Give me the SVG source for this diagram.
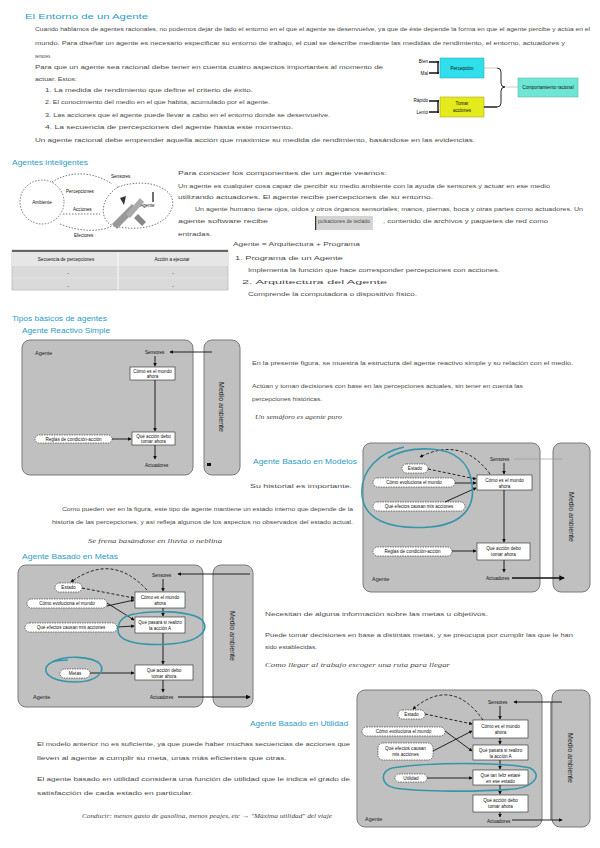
<svg xmlns="http://www.w3.org/2000/svg" width="600" height="848" viewBox="0 0 600 848">
<style>
text{font-family:"Liberation Sans",Arial,sans-serif}
.h{font-size:8px;fill:#2c9cc4}
.t{font-size:6px;fill:#4a4a4a}
.hw{font-family:"Liberation Serif",serif;font-style:italic;font-size:6.5px;fill:#444}
.s{font-size:4.6px;fill:#111}
.c{text-anchor:middle}
.sm{font-size:5.5px;fill:#222}
.va{font-size:7px;fill:#222;text-anchor:middle}
.env{fill:#c0c0c0;stroke:#7a7a7a;stroke-width:1}
.bx{fill:#fff;stroke:#222;stroke-width:.6}
.rb{fill:#fff;stroke:#222;stroke-width:.6;stroke-dasharray:1.5 1}
.ln{stroke:#111;stroke-width:.9;fill:none}
.dl{stroke:#111;stroke-width:.9;fill:none;stroke-dasharray:3 2}
.dt{stroke:#555;stroke-width:.8;fill:none;stroke-dasharray:1.5 1.5}
.tl{stroke:#3596aa;stroke-width:1.6;fill:none}
</style>
<defs>
<marker id="a" viewBox="0 0 6 6" refX="5" refY="3" markerWidth="4" markerHeight="4" orient="auto"><path d="M0,0 L6,3 L0,6z" fill="#111"/></marker>
</defs>
<rect width="600" height="848" fill="#fff"/>

<g id="seccion-entorno">
<text class="h" x="25" y="19" textLength="123" lengthAdjust="spacingAndGlyphs">El Entorno de un Agente</text>
<text class="t" x="35" y="31" textLength="555" lengthAdjust="spacingAndGlyphs">Cuando hablamos de agentes racionales, no podemos dejar de lado el entorno en el que el agente se desenvuelve, ya que de éste depende la forma en que el agente percibe y actúa en el</text>
<text class="t" x="35" y="45" textLength="530" lengthAdjust="spacingAndGlyphs">mundo. Para diseñar un agente es necesario especificar su entorno de trabajo, el cual se describe mediante las medidas de rendimiento, el entorno, actuadores y</text>
<text class="t" x="35" y="58" textLength="16" lengthAdjust="spacingAndGlyphs">sensores.</text>
<text class="t" x="35" y="69" textLength="348" lengthAdjust="spacingAndGlyphs">Para que un agente sea racional debe tener en cuenta cuatro aspectos importantes al momento de</text>
<text class="t" x="35" y="81" textLength="42" lengthAdjust="spacingAndGlyphs">actuar. Estos:</text>
<text class="t" x="45" y="92" textLength="208" lengthAdjust="spacingAndGlyphs">1. La medida de rendimiento que define el criterio de éxito.</text>
<text class="t" x="45" y="104" textLength="225" lengthAdjust="spacingAndGlyphs">2. El conocimiento del medio en el que habita, acumulado por el agente.</text>
<text class="t" x="45" y="117" textLength="285" lengthAdjust="spacingAndGlyphs">3. Las acciones que el agente puede llevar a cabo en el entorno donde se desenvuelve.</text>
<text class="t" x="45" y="129" textLength="248" lengthAdjust="spacingAndGlyphs">4. La secuencia de percepciones del agente hasta este momento.</text>
<text class="t" x="35" y="142" textLength="440" lengthAdjust="spacingAndGlyphs">Un agente racional debe emprender aquella acción que maximice su medida de rendimiento, basándose en las evidencias.</text>
</g>

<g id="diagrama-entorno">
<text class="s" x="428" y="63" text-anchor="end">Bien</text>
<text class="s" x="428" y="75" text-anchor="end">Mal</text>
<text class="s" x="428" y="102" text-anchor="end">Rápido</text>
<text class="s" x="428" y="114" text-anchor="end">Lento</text>
<path d="M429,62 H439 M429,73 H439 M438,61 V74 M429,101 H439 M429,112 H439 M438,100 V113" stroke="#111" stroke-width="1.4" fill="none"/>
<rect x="440" y="58" width="44" height="20" fill="#2fdfeb" stroke="#3aa8b8" stroke-width=".6"/>
<text class="s c" x="462" y="70">Percepción</text>
<rect x="440" y="97" width="44" height="20" fill="#e4ea1c" stroke="#a8a820" stroke-width=".6"/>
<text class="s c" x="462" y="105">Tomar</text>
<text class="s c" x="462" y="112">acciones</text>
<path d="M484,68 H497" stroke="#aaa" stroke-width=".6"/>
<path d="M484,107 H497" stroke="#111" stroke-width="1.4"/>
<path d="M497,68 Q501,68 501,72 V83 Q501,87 505,87 Q501,87 501,91 V103 Q501,107 497,107" stroke="#111" stroke-width=".9" fill="none"/>
<path d="M505,87 H518" stroke="#aaa" stroke-width=".6"/>
<rect x="518" y="78" width="60" height="19" fill="#6ee6d6" stroke="#5ab8ac" stroke-width=".6"/>
<text class="s c" x="548" y="89">Comportamiento racional</text>
</g>

<g id="seccion-agentes">
<text class="h" x="12" y="165" textLength="76" lengthAdjust="spacingAndGlyphs">Agentes inteligentes</text>
<text class="t" x="178" y="175" textLength="209" lengthAdjust="spacingAndGlyphs">Para conocer los componentes de un agente veamos:</text>
<text class="t" x="178" y="188" textLength="372" lengthAdjust="spacingAndGlyphs">Un agente es cualquier cosa capaz de percibir su medio ambiente con la ayuda de sensores y actuar en ese medio</text>
<text class="t" x="178" y="199" textLength="255" lengthAdjust="spacingAndGlyphs">utilizando actuadores. El agente recibe percepciones de su entorno.</text>
<text class="t" x="195" y="211" textLength="388" lengthAdjust="spacingAndGlyphs">Un agente humano tiene ojos, oídos y otros órganos sensoriales; manos, piernas, boca y otras partes como actuadores. Un</text>
<text class="t" x="178" y="223" textLength="90" lengthAdjust="spacingAndGlyphs">agente software recibe</text>
<rect x="315" y="216" width="58" height="14" fill="#d4d4d4"/>
<rect x="315" y="216" width="1.2" height="14" fill="#333"/>
<text class="t" x="318" y="223" textLength="52" lengthAdjust="spacingAndGlyphs">pulsaciones de teclado</text>
<text class="t" x="383" y="223" textLength="165" lengthAdjust="spacingAndGlyphs">, contenido de archivos y paquetes de red como</text>
<text class="t" x="178" y="236" textLength="34" lengthAdjust="spacingAndGlyphs">entradas.</text>
<text class="t" x="233" y="246" textLength="127" lengthAdjust="spacingAndGlyphs">Agente = Arquitectura + Programa</text>
<text class="t" x="235" y="260" textLength="108" lengthAdjust="spacingAndGlyphs">1. Programa de un Agente</text>
<text class="t" x="248" y="272" textLength="252" lengthAdjust="spacingAndGlyphs">Implementa la función que hace corresponder percepciones con acciones.</text>
<text class="t" x="242" y="284" textLength="145" lengthAdjust="spacingAndGlyphs">2. Arquitectura del Agente</text>
<text class="t" x="248" y="296" textLength="169" lengthAdjust="spacingAndGlyphs">Comprende la computadora o dispositivo físico.</text>
</g>

<g id="diagrama-agente">
<ellipse cx="42" cy="202" rx="22" ry="22" class="dt"/>
<text class="s c" x="42" y="204">Ambiente</text>
<path class="dt" d="M118,187 C150,176 178,190 172,208 C166,226 140,232 114,226 C100,222 98,200 118,187"/>
<path class="dt" d="M52,182 C70,170 95,172 112,184"/>
<path class="dt" d="M63,214 L100,214"/>
<path class="dt" d="M60,224 C80,232 100,232 112,226"/>
<text class="s" x="111" y="178">Sensores</text>
<text class="s" x="66" y="193">Percepciones</text>
<text class="s" x="73" y="211">Acciones</text>
<text class="s" x="74" y="237">Efectores</text>
<text class="s" x="140" y="207">Agente</text>
<line x1="153" y1="192" x2="153" y2="202" stroke="#111" stroke-width="1.2"/>
<path d="M112,224 L132,204 L137,209 L117,229z" fill="#999"/>
<path d="M126,214 L140,198 L144,202 L130,218z" fill="#aaa"/>
<path d="M138,214 L146,222 L142,226 L134,218z" fill="#888"/>
<path d="M120,198 L126,196 L124,205z" fill="#333"/>
</g>

<g id="tabla">
<rect x="12" y="250" width="216" height="40" fill="#dadada" stroke="#aaa" stroke-width=".6"/>
<rect x="12" y="250" width="216" height="2" fill="#666"/>
<rect x="12" y="252" width="216" height="14" fill="#e6e6e6"/>
<line x1="118" y1="252" x2="118" y2="290" stroke="#fafafa" stroke-width="1"/>
<line x1="12" y1="278" x2="228" y2="278" stroke="#e8e8e8" stroke-width=".6"/>
<text class="s c" x="66" y="261">Secuencia de percepciones</text>
<text class="s c" x="172" y="261">Acción a ejecutar</text>
<text class="s c" x="68" y="275">-</text>
<text class="s c" x="173" y="275">-</text>
<text class="s c" x="68" y="288">-</text>
<text class="s c" x="173" y="288">-</text>
</g>

<g id="seccion-tipos">
<text class="h" x="12" y="321" textLength="95" lengthAdjust="spacingAndGlyphs">Tipos básicos de agentes</text>
<text class="h" x="22" y="333" textLength="88" lengthAdjust="spacingAndGlyphs">Agente Reactivo Simple</text>
<text class="t" x="252" y="365" textLength="321" lengthAdjust="spacingAndGlyphs">En la presente figura, se muestra la estructura del agente reactivo simple y su relación con el medio.</text>
<text class="t" x="252" y="388" textLength="271" lengthAdjust="spacingAndGlyphs">Actúan y toman decisiones con base en las percepciones actuales, sin tener en cuenta las</text>
<text class="t" x="252" y="401" textLength="70" lengthAdjust="spacingAndGlyphs">percepciones históricas.</text>
<text class="hw" x="255" y="419" textLength="87" lengthAdjust="spacingAndGlyphs">Un semáforo es agente puro</text>
<text class="h" x="253" y="464" textLength="104" lengthAdjust="spacingAndGlyphs">Agente Basado en Modelos</text>
<text class="t" x="250" y="488" textLength="102" lengthAdjust="spacingAndGlyphs">Su historial es importante.</text>
<text class="t" x="62" y="511" textLength="291" lengthAdjust="spacingAndGlyphs">Como pueden ver en la figura, este tipo de agente mantiene un estado interno que depende de la</text>
<text class="t" x="52" y="524" textLength="301" lengthAdjust="spacingAndGlyphs">historia de las percepciones, y así refleja algunos de los aspectos no observados del estado actual.</text>
<text class="hw" x="88" y="543" textLength="134" lengthAdjust="spacingAndGlyphs">Se frena basándose en lluvia o neblina</text>
<text class="h" x="22" y="559" textLength="96" lengthAdjust="spacingAndGlyphs">Agente Basado en Metas</text>
<text class="t" x="265" y="616" textLength="223" lengthAdjust="spacingAndGlyphs">Necesitan de alguna información sobre las metas u objetivos.</text>
<text class="t" x="265" y="637" textLength="308" lengthAdjust="spacingAndGlyphs">Puede tomar decisiones en base a distintas metas, y se preocupa por cumplir las que le han</text>
<text class="t" x="265" y="649" textLength="52" lengthAdjust="spacingAndGlyphs">sido establecidas.</text>
<text class="hw" x="265" y="667" textLength="185" lengthAdjust="spacingAndGlyphs">Como llegar al trabajo escoger una ruta para llegar</text>
<text class="h" x="250" y="726" textLength="98" lengthAdjust="spacingAndGlyphs">Agente Basado en Utilidad</text>
<text class="t" x="37" y="746" textLength="313" lengthAdjust="spacingAndGlyphs">El modelo anterior no es suficiente, ya que puede haber muchas secuencias de acciones que</text>
<text class="t" x="37" y="760" textLength="250" lengthAdjust="spacingAndGlyphs">lleven al agente a cumplir su meta, unas más eficientes que otras.</text>
<text class="t" x="37" y="781" textLength="313" lengthAdjust="spacingAndGlyphs">El agente basado en utilidad considera una función de utilidad que le indica el grado de</text>
<text class="t" x="37" y="795" textLength="156" lengthAdjust="spacingAndGlyphs">satisfacción de cada estado en particular.</text>
<text class="hw" x="82" y="818" textLength="250" lengthAdjust="spacingAndGlyphs">Conducir: menos gasto de gasolina, menos peajes, etc → "Máxima utilidad" del viaje</text>
</g>

<g id="agente-reactivo-simple">
<rect class="env" x="22" y="340" width="171" height="135" rx="8"/>
<rect class="env" x="204" y="340" width="36" height="135" rx="8"/>
<text class="va" transform="translate(219,407) rotate(90)">Medio ambiente</text>
<text class="sm" x="35" y="355">Agente</text>
<text class="s" x="145" y="354">Sensores</text>
<line class="ln" x1="212" y1="352" x2="170" y2="352" marker-end="url(#a)"/>
<line class="ln" x1="155" y1="356" x2="155" y2="366" marker-end="url(#a)"/>
<rect class="bx" x="130" y="367" width="45" height="13"/>
<text class="s c" x="152.5" y="372.5">Cómo es el mundo</text>
<text class="s c" x="152.5" y="378">ahora</text>
<line class="ln" x1="155" y1="380" x2="155" y2="431" marker-end="url(#a)"/>
<rect class="bx" x="132" y="432" width="43" height="13"/>
<text class="s c" x="153.5" y="437.5">Qué acción debo</text>
<text class="s c" x="153.5" y="443">tomar ahora</text>
<rect class="rb" x="35" y="435" width="77" height="8" rx="4"/>
<text class="s c" x="73.5" y="440.8">Reglas de condición-acción</text>
<line class="ln" x1="112" y1="439" x2="131" y2="439" marker-end="url(#a)"/>
<line class="ln" x1="155" y1="445" x2="155" y2="459" marker-end="url(#a)"/>
<text class="s" x="145" y="467">Actuadores</text>
<rect x="207" y="463" width="4" height="3" fill="#111"/>
</g>

<g id="agente-basado-en-modelos">
<rect class="env" x="363" y="443" width="177" height="149" rx="8"/>
<rect class="env" x="553" y="443" width="37" height="149" rx="8"/>
<text class="va" transform="translate(569,517) rotate(90)">Medio ambiente</text>
<text class="s" x="490" y="461">Sensores</text>
<line x1="562" y1="459" x2="514" y2="459" stroke="#999" stroke-width=".7"/>
<line class="ln" x1="504" y1="463" x2="504" y2="474" marker-end="url(#a)"/>
<rect class="bx" x="477" y="475" width="55" height="15"/>
<text class="s c" x="504.5" y="481.5">Cómo es el mundo</text>
<text class="s c" x="504.5" y="487.5">ahora</text>
<rect class="rb" x="402" y="464" width="26" height="9" rx="4.5"/>
<text class="s c" x="415" y="470.3">Estado</text>
<rect class="rb" x="373" y="478" width="82" height="9" rx="4.5"/>
<text class="s c" x="414" y="484.3">Cómo evoluciona el mundo</text>
<rect class="rb" x="373" y="502" width="92" height="9" rx="4.5"/>
<text class="s c" x="419" y="508.3">Qué efectos causan mis acciones</text>
<path class="dl" d="M428,469 L476,479" marker-end="url(#a)"/>
<path class="ln" d="M455,483 L476,483" marker-end="url(#a)"/>
<path class="ln" d="M445,502 L476,488" marker-end="url(#a)"/>
<path class="dl" d="M490,474 Q462,436 420,457" marker-end="url(#a)"/>
<line class="ln" x1="504" y1="490" x2="504" y2="542" marker-end="url(#a)"/>
<rect class="bx" x="477" y="543" width="53" height="17"/>
<text class="s c" x="503.5" y="550">Qué acción debo</text>
<text class="s c" x="503.5" y="556">tomar ahora</text>
<rect class="rb" x="373" y="547" width="79" height="9" rx="4.5"/>
<text class="s c" x="412.5" y="553.3">Reglas de condición-acción</text>
<line class="ln" x1="452" y1="551" x2="476" y2="551" marker-end="url(#a)"/>
<line class="ln" x1="504" y1="560" x2="504" y2="572" marker-end="url(#a)"/>
<text class="s" x="486" y="580">Actuadores</text>
<line x1="512" y1="578" x2="564" y2="578" stroke="#111" stroke-width="1.4" marker-end="url(#a)"/>
<text class="sm" x="372" y="581">Agente</text>
<path class="tl" d="M404,447 C380,452 360,470 362,495 C364,520 390,530 430,527 C465,524 475,505 472,485 C470,462 455,450 430,449 C412,448 398,452 388,458"/>
</g>

<g id="agente-basado-en-metas">
<rect class="env" x="18" y="565" width="185" height="142" rx="8"/>
<rect class="env" x="213" y="565" width="40" height="142" rx="8"/>
<text class="va" transform="translate(230,636) rotate(90)">Medio ambiente</text>
<text class="s" x="152" y="577">Sensores</text>
<line class="ln" x1="250" y1="574" x2="178" y2="574" marker-end="url(#a)"/>
<line class="ln" x1="163" y1="579" x2="163" y2="591" marker-end="url(#a)"/>
<rect class="bx" x="135" y="592" width="50" height="16"/>
<text class="s c" x="160" y="599">Cómo es el mundo</text>
<text class="s c" x="160" y="605">ahora</text>
<line class="ln" x1="163" y1="608" x2="163" y2="616" marker-end="url(#a)"/>
<rect class="bx" x="135" y="617" width="50" height="16"/>
<text class="s c" x="160" y="624">Qué pasará si realizo</text>
<text class="s c" x="160" y="630">la acción A</text>
<line class="ln" x1="163" y1="633" x2="163" y2="664" marker-end="url(#a)"/>
<rect class="bx" x="135" y="665" width="58" height="15"/>
<text class="s c" x="164" y="671.5">Qué acción debo</text>
<text class="s c" x="164" y="677.5">tomar ahora</text>
<line class="ln" x1="163" y1="680" x2="163" y2="692" marker-end="url(#a)"/>
<text class="s" x="150" y="699">Actuadores</text>
<line x1="178" y1="697" x2="250" y2="697" stroke="#111" stroke-width="1.2" marker-end="url(#a)"/>
<text class="sm" x="33" y="699">Agente</text>
<rect class="rb" x="55" y="583" width="27" height="9" rx="4.5"/>
<text class="s c" x="68.5" y="589.3">Estado</text>
<rect class="rb" x="27" y="599" width="80" height="9" rx="4.5"/>
<text class="s c" x="67" y="605.3">Cómo evoluciona el mundo</text>
<rect class="rb" x="25" y="623" width="92" height="9" rx="4.5"/>
<text class="s c" x="71" y="629.3">Qué efectos causan mis acciones</text>
<rect class="rb" x="60" y="669" width="30" height="9" rx="4.5"/>
<text class="s c" x="75" y="675.3">Metas</text>
<path class="dl" d="M82,588 L134,598" marker-end="url(#a)"/>
<path class="ln" d="M107,603 L134,620" marker-end="url(#a)"/>
<path class="ln" d="M117,627 L134,626" marker-end="url(#a)"/>
<path class="ln" d="M107,606 L134,600" marker-end="url(#a)"/>
<path class="dl" d="M147,590 Q112,552 71,582" marker-end="url(#a)"/>
<line class="ln" x1="90" y1="673" x2="134" y2="673" marker-end="url(#a)"/>
<path class="tl" d="M130,615 C150,610 190,610 202,620 C210,630 200,642 170,644 C140,646 118,642 118,630 C118,620 124,616 134,614"/>
<path class="tl" d="M52,662 C65,655 92,656 100,664 C106,672 96,682 76,682 C56,682 44,676 46,668 C48,662 58,660 68,660"/>
</g>

<g id="agente-basado-en-utilidad">
<rect class="env" x="357" y="690" width="185" height="137" rx="8"/>
<rect class="env" x="552" y="690" width="38" height="137" rx="8"/>
<text class="va" transform="translate(568,758) rotate(90)">Medio ambiente</text>
<text class="s" x="488" y="704">Sensores</text>
<line class="ln" x1="562" y1="702" x2="514" y2="702" marker-end="url(#a)"/>
<line x1="551" y1="702" x2="551" y2="820" stroke="#222" stroke-width=".8"/>
<line class="ln" x1="500" y1="706" x2="500" y2="719" marker-end="url(#a)"/>
<rect class="bx" x="473" y="720" width="55" height="18"/>
<text class="s c" x="500.5" y="728">Cómo es el mundo</text>
<text class="s c" x="500.5" y="734">ahora</text>
<line class="ln" x1="500" y1="738" x2="500" y2="744" marker-end="url(#a)"/>
<rect class="bx" x="473" y="745" width="55" height="15"/>
<text class="s c" x="500.5" y="751.5">Qué pasará si realizo</text>
<text class="s c" x="500.5" y="757.5">la acción A</text>
<line class="ln" x1="500" y1="760" x2="500" y2="769" marker-end="url(#a)"/>
<rect class="bx" x="473" y="770" width="55" height="15"/>
<text class="s c" x="500.5" y="776.5">Qué tan feliz estaré</text>
<text class="s c" x="500.5" y="782.5">en ese estado</text>
<line class="ln" x1="500" y1="785" x2="500" y2="794" marker-end="url(#a)"/>
<rect class="bx" x="473" y="795" width="55" height="17"/>
<text class="s c" x="500.5" y="802">Qué acción debo</text>
<text class="s c" x="500.5" y="808">tomar ahora</text>
<line class="ln" x1="500" y1="812" x2="500" y2="817" marker-end="url(#a)"/>
<text class="s" x="487" y="823">Actuadores</text>
<line class="ln" x1="512" y1="820" x2="562" y2="820" marker-end="url(#a)"/>
<text class="sm" x="365" y="821">Agente</text>
<rect class="rb" x="398" y="710" width="27" height="9" rx="4.5"/>
<text class="s c" x="411.5" y="716.3">Estado</text>
<rect class="rb" x="362" y="727" width="83" height="9" rx="4.5"/>
<text class="s c" x="403.5" y="733.3">Cómo evoluciona el mundo</text>
<rect class="rb" x="378" y="743" width="55" height="17" rx="5"/>
<text class="s c" x="405.5" y="750">Qué efectos causan</text>
<text class="s c" x="405.5" y="756">mis acciones</text>
<rect class="rb" x="395" y="774" width="32" height="8" rx="4"/>
<text class="s c" x="411" y="779.8">Utilidad</text>
<path class="dl" d="M425,714 L472,724" marker-end="url(#a)"/>
<path class="ln" d="M445,731 L472,751" marker-end="url(#a)"/>
<path class="ln" d="M433,751 L472,731" marker-end="url(#a)"/>
<path class="dl" d="M483,720 Q452,676 413,709" marker-end="url(#a)"/>
<line class="ln" x1="427" y1="778" x2="472" y2="778" marker-end="url(#a)"/>
<path class="tl" d="M392,768 C430,762 500,762 530,768 C542,774 536,786 515,789 C480,792 420,792 395,788 C380,785 380,771 392,768"/>
</g>
</svg>
